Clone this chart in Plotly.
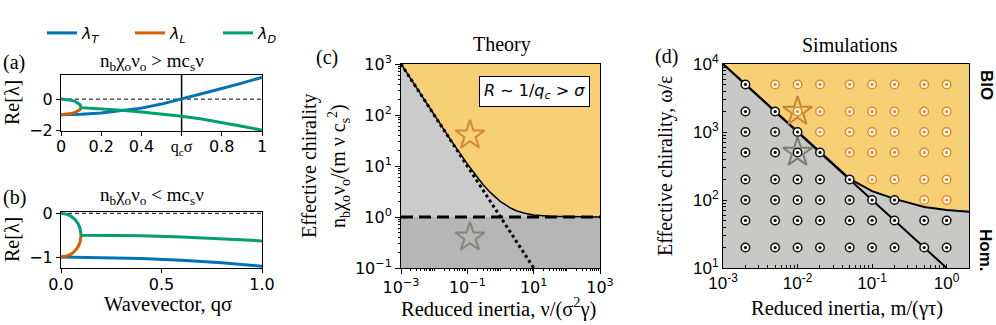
import plotly.graph_objects as go

W, H = 996, 325

# ---------------- data ----------------
# panel (a): n_b chi_o nu_o > m c_s nu
qa_branch = [0, 0.03, 0.05, 0.07, 0.085, 0.095, 0.1]
a_D_branch = [0, -0.02, -0.07, -0.15, -0.25, -0.36, -0.55]
a_L_branch = [-1.0, -0.98, -0.93, -0.85, -0.76, -0.68, -0.55]
qa_D_tail = [0.1, 0.2, 0.3, 0.4, 0.5, 0.6, 0.7, 0.8, 0.9, 1.0]
a_D_tail = [-0.55, -0.62, -0.72, -0.83, -0.96, -1.1, -1.28, -1.5, -1.74, -2.0]
qa_T = [0, 0.1, 0.2, 0.3, 0.4, 0.5, 0.6, 0.7, 0.8, 0.9, 1.0]
a_T = [-1.0, -0.98, -0.9, -0.76, -0.58, -0.32, 0.0, 0.33, 0.68, 1.03, 1.4]

# panel (b): n_b chi_o nu_o < m c_s nu
qb_branch = [0, 0.03, 0.05, 0.07, 0.085, 0.095, 0.1]
b_D_branch = [0, -0.023, -0.067, -0.143, -0.237, -0.344, -0.5]
b_L_branch = [-1.0, -0.977, -0.933, -0.857, -0.763, -0.656, -0.5]
qb_D_tail = [0.1, 0.2, 0.4, 0.6, 0.8, 1.0]
b_D_tail = [-0.5, -0.5, -0.51, -0.54, -0.58, -0.63]
qb_T = [0, 0.2, 0.4, 0.6, 0.8, 1.0]
b_T = [-1.0, -1.01, -1.03, -1.07, -1.13, -1.21]

# panel (c): theory phase diagram
c_x = [1e-3, 3e-3, 1e-2, 3e-2, 0.1, 0.2, 0.3, 0.5, 1, 2, 3, 5, 10, 30, 100, 1000]
c_bound = [1000, 334, 101, 34, 11, 6, 4.3, 3, 2, 1.5, 1.33, 1.2, 1.1, 1.03, 1.01, 1.0]
c_dot_x = [1e-3, 10]
c_dot_y = [1000, 0.1]
c_dash_x = [1e-3, 1000]
c_dash_y = [1, 1]
c_star_x = [0.12, 0.12]
c_star_y = [40, 0.4]

# panel (d): simulations
d_cols = [0.002, 0.005, 0.01, 0.02, 0.05, 0.1, 0.2, 0.5, 1.0]
d_rows = [5000, 2000, 1000, 500, 200, 100, 50, 20]
d_phase = ["HBBBBBBBB",
           "HHBBBBBBB",
           "HHHBBBBBB",
           "HHHHBBBBB",
           "HHHHHBBBB",
           "HHHHHHHBB",
           "HHHHHHHHH",
           "HHHHHHHHH"]
d_line_x = [1e-3, 1.0]
d_line_y = [1e4, 10]
d_bound_x = [1e-3, 2e-3, 5e-3, 1e-2, 2e-2, 3e-2, 5e-2, 0.1, 0.2, 0.5, 1, 2]
d_bound_y = [10000, 5000, 2000, 1000, 505, 340, 205, 135, 104, 79, 71, 67]
d_star_x = [0.01, 0.01]
d_star_y = [2000, 500]

# ---------------- styles ----------------
BLUE, ORANGE, GREEN = "#0173b2", "#d55e00", "#029e73"
GOLD = "#f7d076"
LGRAY = "#cbcbcb"
DGRAY = "#b6b6b6"
DGRAY_D = "#c8c8c6"
PT_OR = "#e8891c"
SERIF = "Liberation Serif"
SANS = "DejaVu Sans"

def fx(px):
    return px / W

def fy(py):
    return 1 - py / H

fig = go.Figure()

def line(x, y, color, xa, ya, width=3, dash="solid", name=None, show=False):
    fig.add_trace(go.Scatter(x=x, y=y, mode="lines", xaxis=xa, yaxis=ya,
                             line=dict(color=color, width=width, dash=dash),
                             name=name, showlegend=show, hoverinfo="skip"))

# panel a
line([0, 1], [0, 0], "black", "x", "y", width=1, dash="4px,3px")
line([0.6, 0.6], [-2.05, 1.55], "black", "x", "y", width=1.5)
line(qa_T, a_T, BLUE, "x", "y", name="<i>λ<sub>T</sub></i>", show=True)
line(qa_branch, a_L_branch, ORANGE, "x", "y", name="<i>λ<sub>L</sub></i>", show=True)
line(qa_branch + qa_D_tail[1:], a_D_branch + a_D_tail[1:], GREEN, "x", "y",
     name="<i>λ<sub>D</sub></i>", show=True)
fig.add_trace(go.Scatter(x=[0.93], y=[2.33], mode="markers", xaxis="x", yaxis="y",
                         marker=dict(symbol="star", size=25, color="#f6c667",
                                     line=dict(color="#d9822b", width=1.5)),
                         cliponaxis=False, showlegend=False, hoverinfo="skip"))

# panel b
line([0, 1], [0, 0], "black", "x2", "y2", width=1, dash="4px,3px")
line(qb_T, b_T, BLUE, "x2", "y2")
line(qb_branch, b_L_branch, ORANGE, "x2", "y2")
line(qb_branch + qb_D_tail[1:], b_D_branch + b_D_tail[1:], GREEN, "x2", "y2")
fig.add_trace(go.Scatter(x=[0.93], y=[0.33], mode="markers", xaxis="x2", yaxis="y2",
                         marker=dict(symbol="star", size=25, color="#a9a9a9",
                                     line=dict(color="#7c7c7c", width=1.5)),
                         cliponaxis=False, showlegend=False, hoverinfo="skip"))

# panel c fills
fig.add_trace(go.Scatter(x=c_x + [c_x[-1], c_x[0]], y=c_bound + [1000, 1000],
                         fill="toself", fillcolor=GOLD, mode="none", xaxis="x3", yaxis="y3",
                         showlegend=False, hoverinfo="skip"))
fig.add_trace(go.Scatter(x=c_x + [c_x[0]], y=c_bound + [c_dash_y[0]],
                         fill="toself", fillcolor=LGRAY, mode="none", xaxis="x3", yaxis="y3",
                         showlegend=False, hoverinfo="skip"))
fig.add_trace(go.Scatter(x=[c_x[0], c_x[-1], c_x[-1], c_x[0]], y=[0.1, 0.1, 1, 1],
                         fill="toself", fillcolor=DGRAY, mode="none", xaxis="x3", yaxis="y3",
                         showlegend=False, hoverinfo="skip"))
line(c_dot_x, c_dot_y, "black", "x3", "y3", width=3, dash="dot")
line(c_dash_x, c_dash_y, "black", "x3", "y3", width=3, dash="12px,6px")
line(c_x, c_bound, "black", "x3", "y3", width=1.5)
fig.add_trace(go.Scatter(x=c_star_x[:1], y=c_star_y[:1], mode="markers", xaxis="x3", yaxis="y3",
                         marker=dict(symbol="star-open", size=22, color="#d0883a",
                                     line=dict(width=2)),
                         showlegend=False, hoverinfo="skip"))
fig.add_trace(go.Scatter(x=c_star_x[1:], y=c_star_y[1:], mode="markers", xaxis="x3", yaxis="y3",
                         marker=dict(symbol="star-open", size=22, color="#85857a",
                                     line=dict(width=2)),
                         showlegend=False, hoverinfo="skip"))

# panel d fills
fig.add_trace(go.Scatter(x=d_bound_x + [d_bound_x[-1], d_bound_x[0]], y=d_bound_y + [1e4, 1e4],
                         fill="toself", fillcolor=GOLD, mode="none", xaxis="x4", yaxis="y4",
                         showlegend=False, hoverinfo="skip"))
fig.add_trace(go.Scatter(x=d_bound_x + [d_bound_x[-1], d_bound_x[0]], y=d_bound_y + [10, 10],
                         fill="toself", fillcolor=DGRAY_D, mode="none", xaxis="x4", yaxis="y4",
                         showlegend=False, hoverinfo="skip"))
line(d_bound_x, d_bound_y, "black", "x4", "y4", width=2)
line(d_line_x, d_line_y, "black", "x4", "y4", width=2)

for state, col in (("H", "#111111"), ("B", PT_OR)):
    xs, ys = [], []
    for r, row in zip(d_rows, d_phase):
        for c, s in zip(d_cols, row):
            if s == state:
                xs.append(c)
                ys.append(r)
    fig.add_trace(go.Scatter(x=xs, y=ys, mode="markers", xaxis="x4", yaxis="y4",
                             marker=dict(symbol="circle", size=8.5, color="white",
                                         line=dict(color=col, width=1.5)),
                             showlegend=False, hoverinfo="skip"))
    fig.add_trace(go.Scatter(x=xs, y=ys, mode="markers", xaxis="x4", yaxis="y4",
                             marker=dict(symbol="circle", size=3.2, color=col,
                                         line=dict(width=0)),
                             showlegend=False, hoverinfo="skip"))

fig.add_trace(go.Scatter(x=d_star_x[:1], y=d_star_y[:1], mode="markers", xaxis="x4", yaxis="y4",
                         marker=dict(symbol="star-open", size=22, color="#c8862f",
                                     line=dict(width=2)),
                         showlegend=False, hoverinfo="skip"))
fig.add_trace(go.Scatter(x=d_star_x[1:], y=d_star_y[1:], mode="markers", xaxis="x4", yaxis="y4",
                         marker=dict(symbol="star-open", size=22, color="#7d7d78",
                                     line=dict(width=2)),
                         showlegend=False, hoverinfo="skip"))

# ---------------- axes ----------------
tickfont = dict(family=SANS, size=16, color="black")
common = dict(showline=True, linecolor="black", linewidth=1, mirror=True,
              ticks="outside", ticklen=4, tickcolor="black", showgrid=False,
              zeroline=False, tickfont=tickfont)

qc_lbl = '<span style="font-family:Liberation Serif">q<sub>c</sub>σ</span>'
fig.update_layout(
    xaxis=dict(domain=[fx(61), fx(262)], anchor="y", range=[0, 1],
               tickvals=[0, 0.2, 0.4, 0.6, 0.8, 1], ticklabelstandoff=-3,
               ticktext=["0", "0.2", "0.4", qc_lbl, "0.8", "1"], **common),
    yaxis=dict(domain=[fy(131), fy(75)], anchor="x", range=[-2.05, 1.55],
               tickvals=[-2, 0], ticktext=["−2", "0"], **common),
    xaxis2=dict(domain=[fx(61), fx(262)], anchor="y2", range=[0, 1], ticklabelstandoff=-2,
                tickvals=[0, 0.5, 1], ticktext=["0.0", "0.5", "1.0"], **common),
    yaxis2=dict(domain=[fy(268), fy(212)], anchor="x2", range=[-1.25, 0.03],
                tickvals=[-1, 0], ticktext=["−1", "0"], **common),
)

minor_c = dict(ticks="outside", ticklen=2, tickcolor="black", showgrid=False, dtick="D1")
common_c = dict(common)
common_c["ticklen"] = 5
fig.update_layout(
    xaxis3=dict(domain=[fx(401), fx(600)], anchor="y3", type="log", range=[-3, 3],
                tickvals=[1e-3, 1e-1, 1e1, 1e3],
                ticktext=["10<sup>−3</sup>", "10<sup>−1</sup>", "10<sup>1</sup>", "10<sup>3</sup>"],
                minor=minor_c, **common_c),
    yaxis3=dict(domain=[fy(268), fy(64)], anchor="x3", type="log", range=[-1, 3],
                tickvals=[1e-1, 1, 1e1, 1e2, 1e3],
                ticktext=["10<sup>−1</sup>", "10<sup>0</sup>", "10<sup>1</sup>", "10<sup>2</sup>", "10<sup>3</sup>"],
                minor=minor_c, **common_c),
)

common_d = dict(common)
common_d["tickfont"] = dict(family="Liberation Sans", size=17, color="black")
common_d["ticks"] = "inside"
minor_d = dict(ticks="inside", ticklen=3, tickcolor="black", showgrid=False, dtick="D1")
fig.update_layout(
    xaxis4=dict(domain=[fx(723), fx(969)], anchor="y4", type="log", range=[-3, 0.3],
                tickvals=[1e-3, 1e-2, 1e-1, 1],
                ticktext=["10<sup>-3</sup>", "10<sup>-2</sup>", "10<sup>-1</sup>", "10<sup>0</sup>"],
                minor=minor_d, **common_d),
    yaxis4=dict(domain=[fy(268), fy(64)], anchor="x4", type="log", range=[1, 4],
                tickvals=[10, 100, 1000, 10000],
                ticktext=["10<sup>1</sup>", "10<sup>2</sup>", "10<sup>3</sup>", "10<sup>4</sup>"],
                minor=minor_d, **common_d),
)

# ---------------- text ----------------
anns = []

def ann(text, x, y, size=20, family=SERIF, angle=0, xanchor="center", **kw):
    d = dict(text=text, x=fx(x), y=fy(y), xref="paper", yref="paper", showarrow=False,
             font=dict(family=family, size=size, color="black"), textangle=angle,
             xanchor=xanchor, yanchor="middle")
    d.update(kw)
    anns.append(d)

ann("(a)", 14, 63)
ann("(b)", 14, 197)
ann("(c)", 327, 58)
ann("(d)", 666, 57)
ann("n<sub>b</sub>χ<sub>o</sub>ν<sub>o</sub> &gt; mc<sub>s</sub>ν", 152, 62, size=19)
ann("n<sub>b</sub>χ<sub>o</sub>ν<sub>o</sub> &lt; mc<sub>s</sub>ν", 152, 196, size=19)
ann("Re[λ]", 12, 103, angle=-90)
ann("Re[λ]", 12, 240, angle=-90)
ann("Wavevector, qσ", 168, 304, size=20.5)
ann("Theory", 502, 44)
ann("Simulations", 850, 45)
ann("Effective chirality", 309, 166, angle=-90)
ann("n<sub>b</sub>χ<sub>o</sub>ν<sub>o</sub>/(m ν c<sub>s</sub><sup>2</sup>)", 339, 166, angle=-90)
ann("Reduced inertia, ν/(σ<sup>2</sup>γ)", 498, 307, size=20.5)
ann("Effective chirality, ω/ε", 665, 166, angle=-90)
ann("Reduced inertia, m/(γτ)", 847, 308, size=20.5)
ann("<b>BIO</b>", 986, 85, size=17, family="Liberation Sans", angle=90)
ann("<b>Hom.</b>", 986, 250, size=17, family="Liberation Sans", angle=90)
ann("<i>R</i> ∼ 1/<i>q<sub>c</sub></i> &gt; <i>σ</i>", 534, 91, size=16, family=SANS,
    bgcolor="white", bordercolor="black", borderwidth=1, borderpad=4)

fig.update_layout(
    annotations=anns,
    width=W, height=H, autosize=False,
    margin=dict(l=0, r=0, t=0, b=0, pad=0, autoexpand=False),
    paper_bgcolor="white", plot_bgcolor="white",
    showlegend=True,
    legend=dict(orientation="h", x=fx(42), y=fy(33), xanchor="left", yanchor="middle",
                font=dict(family=SANS, size=16, color="black"),
                entrywidth=43, entrywidthmode="pixels", itemwidth=30,
                bgcolor="rgba(0,0,0,0)", borderwidth=0),
)

fig.write_html("out.html", config={"displayModeBar": False},
               post_script="document.body.style.margin='0';document.body.style.overflow='hidden';")
